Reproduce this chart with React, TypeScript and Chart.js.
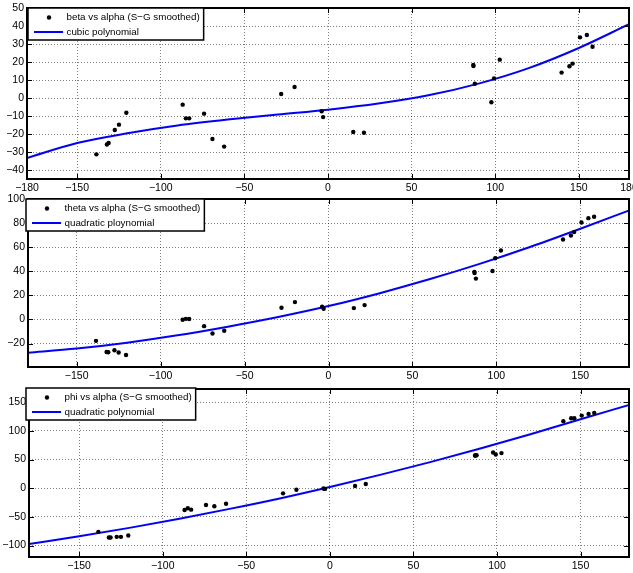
import React, { useEffect, useRef } from 'react';
import { Chart, registerables } from 'chart.js';

Chart.register(...registerables);

// alpha (x) shared by all three panels
const alpha = [
  -138.5, -132.2, -131.2, -127.5, -125.0, -120.6, -86.9, -85.0, -83.0, -74.1,
  -69.1, -62.1, -28.0, -20.0, -3.8, -2.9, 15.1, 21.5, 86.9, 87.0,
  87.8, 97.7, 99.3, 102.7, 139.7, 144.4, 146.3, 150.7, 154.8, 158.2,
];
const beta = [
  -31.3, -25.8, -25.0, -17.8, -14.8, -8.2, -3.7, -11.3, -11.3, -8.7,
  -22.8, -27.0, 2.2, 6.1, -7.4, -10.6, -18.9, -19.3, 18.3, 17.8,
  7.9, -2.4, 10.9, 21.3, 14.1, 17.6, 19.1, 33.7, 35.0, 28.5,
];
const theta = [
  -17.8, -27.0, -27.3, -25.6, -27.5, -29.5, -0.3, 0.5, 0.3, -5.6,
  -11.7, -9.4, 9.7, 14.4, 10.5, 8.9, 9.4, 11.9, 39.5, 38.5,
  33.9, 40.2, 50.8, 57.2, 66.4, 69.7, 72.5, 80.5, 84.1, 85.2,
];
const phi = [
  -76.2, -86.0, -86.0, -84.9, -84.9, -82.6, -37.9, -35.0, -37.4, -29.2,
  -31.6, -27.0, -9.0, -2.6, -0.5, -1.2, 3.8, 7.3, 57.0, 57.0,
  57.5, 62.3, 58.8, 61.2, 116.9, 122.0, 122.0, 126.6, 129.6, 131.3,
];

// fitted curves
const fitX = [-180, -150, -120, -90, -60, -30, 0, 30, 60, 90, 120, 150, 180];
const betaFit = [-33.3, -25.0, -19.6, -15.3, -12.0, -9.2, -6.5, -3.1, 1.5, 8.0, 16.6, 27.8, 41.0];
const thetaFit = [-27.8, -24.2, -19.3, -13.2, -6.0, 2.0, 11.1, 21.6, 33.3, 46.1, 60.1, 75.3, 91.0];
const phiFit = [-97.5, -83.8, -69.2, -53.2, -36.1, -17.9, 2.1, 23.2, 45.5, 69.1, 94.0, 120.3, 146.0];

// tick values
const xTicksTop = [-180, -150, -100, -50, 0, 50, 100, 150, 180];
const xTicksOther = [-150, -100, -50, 0, 50, 100, 150];
const betaTicks = [-40, -30, -20, -10, 0, 10, 20, 30, 40, 50];
const thetaTicks = [-20, 0, 20, 40, 60, 80, 100];
const phiTicks = [-100, -50, 0, 50, 100, 150];

const pointLabels = ['beta vs alpha (S\u2212G smoothed)', 'theta vs alpha (S\u2212G smoothed)', 'phi vs alpha (S\u2212G smoothed)'];
const fitLabels = ['cubic polynomial', 'quadratic ploynomial', 'quadratic polynomial'];

const W = 633;
const H = 573;
const FONT = '"Liberation Sans", Arial, Helvetica, sans-serif';

type PanelDef = {
  ys: number[];
  fit: number[];
  label: string;
  fitLabel: string;
  xMin: number;
  xMax: number;
  xTicks: number[];
  yMin: number;
  yMax: number;
  yTicks: number[];
  area: [number, number, number, number];
  legendAt: [number, number];
};

const panels: PanelDef[] = [
  { ys: beta, fit: betaFit, label: pointLabels[0], fitLabel: fitLabels[0], xMin: -180, xMax: 180, xTicks: xTicksTop, yMin: -45, yMax: 50, yTicks: betaTicks, area: [27, 8, 632, 179], legendAt: [28, 8] },
  { ys: theta, fit: thetaFit, label: pointLabels[1], fitLabel: fitLabels[1], xMin: -179, xMax: 179, xTicks: xTicksOther, yMin: -39.5, yMax: 100, yTicks: thetaTicks, area: [28, 199, 632, 367], legendAt: [26, 199] },
  { ys: phi, fit: phiFit, label: pointLabels[2], fitLabel: fitLabels[2], xMin: -180, xMax: 179, xTicks: xTicksOther, yMin: -120, yMax: 173, yTicks: phiTicks, area: [29, 389, 632, 557], legendAt: [26, 388] },
];

const fmt = (v: number) => (v < 0 ? '\u2212' + Math.abs(v) : String(v));

function Panel({ def }: { def: PanelDef }) {
  const ref = useRef<HTMLCanvasElement | null>(null);
  useEffect(() => {
    if (!ref.current) return;
    const [aL, aT, aR, aB] = def.area;
    const xAxisH = 20;
    const framePlugin = {
      id: 'frame',
      afterDatasetsDraw(chart: any) {
        const { ctx, chartArea: a, scales } = chart;
        ctx.save();
        ctx.strokeStyle = '#000';
        ctx.lineWidth = 1;
        ctx.beginPath();
        for (const t of scales.x.ticks) {
          const px = Math.round(scales.x.getPixelForValue(t.value)) + 0.5;
          if (px <= a.left + 2 || px >= a.right - 2) continue;
          ctx.moveTo(px, a.bottom);
          ctx.lineTo(px, a.bottom - 5);
          ctx.moveTo(px, a.top);
          ctx.lineTo(px, a.top + 5);
        }
        for (const t of scales.y.ticks) {
          const py = Math.round(scales.y.getPixelForValue(t.value)) + 0.5;
          if (py <= a.top + 2 || py >= a.bottom - 2) continue;
          ctx.moveTo(a.left, py);
          ctx.lineTo(a.left + 5, py);
          ctx.moveTo(a.right, py);
          ctx.lineTo(a.right - 5, py);
        }
        ctx.stroke();
        ctx.lineWidth = 2;
        ctx.strokeRect(a.left, a.top, a.right - a.left, a.bottom - a.top);
        ctx.restore();
      },
      afterDraw(chart: any) {
        const { ctx } = chart;
        const [lx, ly] = def.legendAt;
        ctx.save();
        ctx.font = `9.8px ${FONT}`;
        const tw = Math.max(ctx.measureText(def.label).width, ctx.measureText(def.fitLabel).width);
        const bw = 38.5 + tw + 4;
        const bh = 32;
        ctx.fillStyle = '#fff';
        ctx.fillRect(lx, ly, bw, bh);
        ctx.strokeStyle = '#000';
        ctx.lineWidth = 1.5;
        ctx.strokeRect(lx, ly, bw, bh);
        const r1 = ly + 9.5;
        const r2 = ly + 24;
        ctx.fillStyle = '#000';
        ctx.beginPath();
        ctx.arc(lx + 21, r1, 2.2, 0, Math.PI * 2);
        ctx.fill();
        ctx.strokeStyle = '#0000ff';
        ctx.lineWidth = 2;
        ctx.beginPath();
        ctx.moveTo(lx + 6, r2);
        ctx.lineTo(lx + 35, r2);
        ctx.stroke();
        ctx.fillStyle = '#000';
        ctx.textBaseline = 'middle';
        ctx.textAlign = 'left';
        ctx.fillText(def.label, lx + 38.5, r1);
        ctx.fillText(def.fitLabel, lx + 38.5, r2);
        ctx.restore();
      },
    };

    const gridOpts: any = { color: 'rgba(0,0,0,0.5)', lineWidth: 1, drawTicks: false, borderDash: [1, 2] };
    const tickFont = { family: FONT, size: 10.5 };

    const chart = new Chart(ref.current, {
      type: 'scatter',
      data: {
        datasets: [
          {
            data: alpha.map((x, i) => ({ x, y: def.ys[i] })),
            pointRadius: 2.2,
            pointBackgroundColor: '#000',
            pointBorderWidth: 0,
            showLine: false,
          },
          {
            data: fitX.map((x, i) => ({ x, y: def.fit[i] })),
            showLine: true,
            borderColor: '#0000ff',
            borderWidth: 2,
            pointRadius: 0,
            cubicInterpolationMode: 'monotone',
            fill: false,
          },
        ],
      },
      options: {
        animation: false,
        responsive: false,
        devicePixelRatio: 1,
        events: [],
        layout: { padding: { left: 0, top: aT, right: W - aR, bottom: H - aB - xAxisH } },
        plugins: { legend: { display: false }, tooltip: { enabled: false } },
        scales: {
          x: {
            type: 'linear',
            min: def.xMin,
            max: def.xMax,
            afterBuildTicks: (s: any) => {
              s.ticks = def.xTicks.map((v) => ({ value: v }));
            },
            afterFit: (s: any) => {
              s.height = xAxisH;
              s.paddingLeft = 0;
              s.paddingRight = 0;
            },
            ticks: {
              autoSkip: false,
              maxRotation: 0,
              padding: 3,
              color: '#000',
              font: tickFont,
              callback: (v: any) => fmt(Number(v)),
            },
            grid: gridOpts,
            border: { display: false, dash: [1, 2] },
          },
          y: {
            type: 'linear',
            min: def.yMin,
            max: def.yMax,
            afterBuildTicks: (s: any) => {
              s.ticks = def.yTicks.map((v) => ({ value: v }));
            },
            afterFit: (s: any) => {
              s.width = aL;
              s.paddingTop = 0;
              s.paddingBottom = 0;
            },
            ticks: {
              autoSkip: false,
              padding: 3,
              color: '#000',
              font: tickFont,
              callback: (v: any) => fmt(Number(v)),
            },
            grid: gridOpts,
            border: { display: false, dash: [1, 2] },
          },
        },
      } as any,
      plugins: [framePlugin],
    });
    return () => chart.destroy();
  }, [def]);
  return (
    <canvas
      ref={ref}
      width={W}
      height={H}
      style={{ position: 'absolute', left: 0, top: 0, width: W, height: H }}
    />
  );
}

export default function App() {
  return (
    <div style={{ position: 'fixed', left: 0, top: 0, width: W, height: H, background: '#fff', overflow: 'hidden' }}>
      {panels.map((p, i) => (
        <Panel key={i} def={p} />
      ))}
    </div>
  );
}
